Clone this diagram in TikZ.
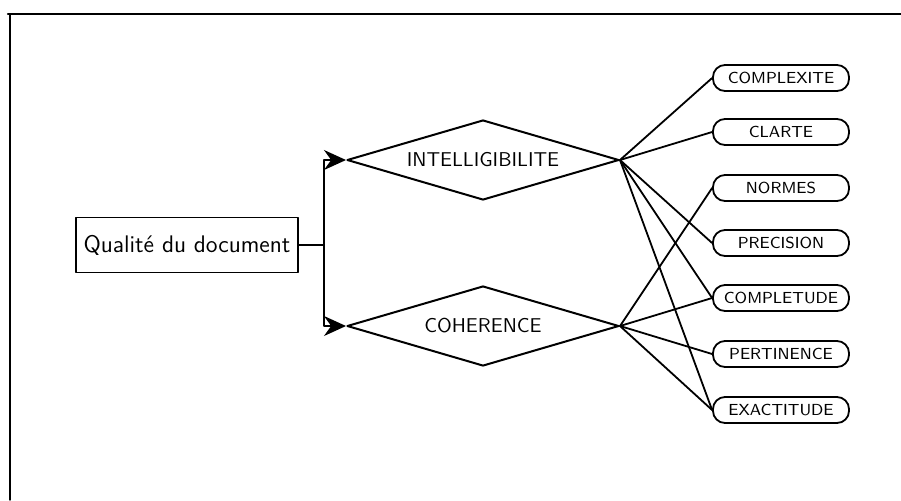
\documentclass[tikz,border=0pt]{standalone}
\usetikzlibrary{arrows.meta,shapes.geometric}
\begin{document}
\begin{tikzpicture}[>={Stealth[length=11pt,width=10pt]}, line join=round, line cap=round, font=\sffamily\footnotesize, x=0.5pt, y=-0.5pt]
		\useasboundingbox (0,0) rectangle (901,500);
		\tikzset{losange/.style={draw, line width=1pt, shape=diamond, shape aspect=3.4, inner sep=0pt, minimum width=136pt, minimum height=40pt, font=\sffamily\normalsize},
			critere/.style={draw, line width=0.9pt, rounded corners=6pt, minimum width=68pt, minimum height=13pt, inner sep=1pt}}
		% Cadre
		\draw[line width=1.1pt] (8,14) -- (901,14);
		\draw[line width=0.7pt] (10,14) -- (10,500);
		% Racine et axes
		\node[draw, line width=0.7pt, minimum width=111pt, minimum height=27.5pt, font=\sffamily\large] (Q) at (187,245) {Qualité du document};
		\node[losange] (I) at (483,160) {INTELLIGIBILITE};
		\node[losange] (C) at (483,326) {COHERENCE};
		\coordinate (F) at (324,245);
		\draw[line width=0.7pt] (Q) -- (F);
		\draw[line width=0.7pt, ->] (F) |- (I);
		\draw[line width=0.7pt, ->] (F) |- (C);
		% Critères
		\foreach \n/\y/\t in {cplx/78/COMPLEXITE, clar/132/CLARTE, norm/188/NORMES, prec/243/PRECISION, cplt/298/COMPLETUDE, pert/354/PERTINENCE, exac/410/EXACTITUDE}
		\node[critere] (\n) at (781,\y) {\t};
		% Liens
		\foreach \n in {cplx, clar, prec, cplt, exac}
		\draw[line width=0.9pt] (I.east) -- (\n.west);
		\foreach \n in {norm, cplt, pert, exac}
		\draw[line width=0.9pt] (C.east) -- (\n.west);
	\end{tikzpicture}
\end{document}
